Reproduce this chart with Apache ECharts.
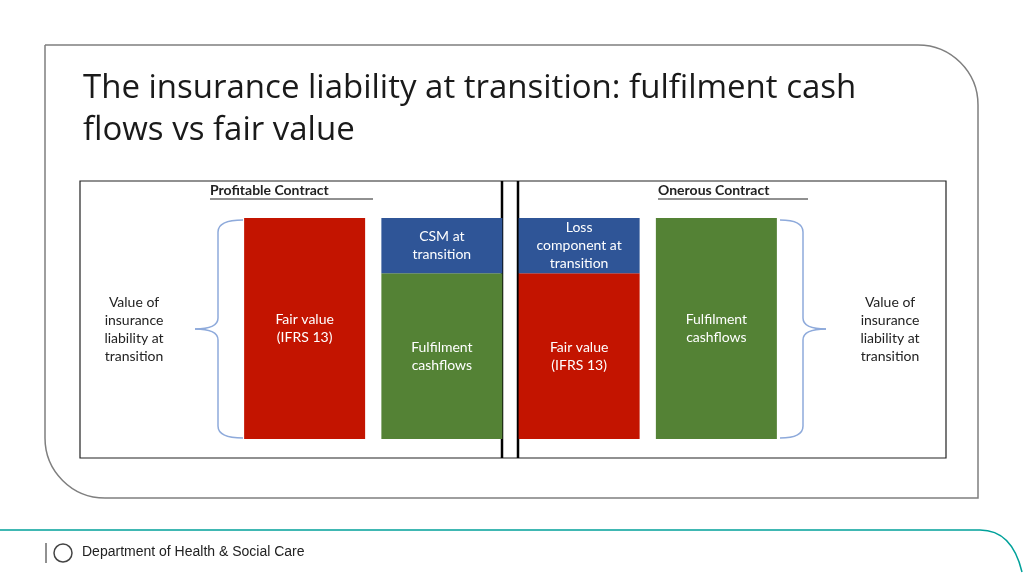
<!DOCTYPE html>
<html><head><meta charset="utf-8">
<script src="https://cdn.jsdelivr.net/npm/echarts@6/dist/echarts.min.js"></script>
<style>html,body{margin:0;padding:0;background:#fff}#c{width:1024px;height:576px}</style>
</head><body><div id="c"></div>
<script>
var categories = ['Profitable FV', 'Profitable FCF', 'Onerous FV', 'Onerous FCF'];
var bottomValues = [100, 75, 75, 100];
var topValues = [0, 25, 25, 0];
var bottomLabels = ['Fair value\n(IFRS 13)', 'Fulfilment\ncashflows', 'Fair value\n(IFRS 13)', 'Fulfilment\ncashflows'];
var topLabels = ['', 'CSM at\ntransition', 'Loss\ncomponent at\ntransition', ''];
var bottomColors = ['#C31400', '#548235', '#C31400', '#548235'];
var topColor = '#2F5597';

var chart = echarts.init(document.getElementById('c'));
var font = 'Lato, "Open Sans", sans-serif';
function lbl(arr){ return {show:true, position:'inside', color:'#fff', fontSize:14, fontFamily:font, lineHeight:18,
  formatter:function(p){return arr[p.dataIndex];}}; }
var brace = '#8EAADB';
function bz(x1,y1,cx,cy,x2,y2){ return {type:'bezierCurve', shape:{x1:x1,y1:y1,cpx1:cx,cpy1:cy,x2:x2,y2:y2}, style:{fill:'none', stroke:brace, lineWidth:1.5}}; }
function ln(x1,y1,x2,y2,c,w){ return {type:'line', shape:{x1:x1,y1:y1,x2:x2,y2:y2}, style:{stroke:c||brace, lineWidth:w||1.5}}; }
function braceEls(xe, xm, xt){
  return [bz(xe,220,xm,220,xm,232), ln(xm,232,xm,318), bz(xm,318,xm,329,xt,329),
          bz(xt,329,xm,329,xm,340), ln(xm,340,xm,426), bz(xm,426,xm,438,xe,438)];
}
var gfx = [
  {type:'rect', z:-1, shape:{x:45, y:45, width:933, height:453, r:[0,60,0,60]}, style:{fill:'none', stroke:'#7f7f7f', lineWidth:1.5}},
  {type:'text', left:83, top:68, style:{text:'The insurance liability at transition: fulfilment cash\nflows vs fair value', fontSize:33, lineHeight:42, fill:'#1a1a1a', fontFamily:'"Open Sans", sans-serif', letterSpacing:-0.6}},
  {type:'rect', shape:{x:80, y:181, width:866, height:277}, style:{fill:'none', stroke:'#222', lineWidth:1.2}},
  ln(502,181,502,458,'#000',2.5), ln(518,181,518,458,'#000',2.5),
  {type:'text', left:210, top:183, style:{text:'Profitable Contract', fontSize:14, fontWeight:'bold', fill:'#222', fontFamily:font}},
  ln(210,199,373,199,'#222',1),
  {type:'text', left:658, top:183, style:{text:'Onerous Contract', fontSize:14, fontWeight:'bold', fill:'#222', fontFamily:font}},
  ln(658,199,808,199,'#222',1),
  {type:'text', x:134, y:329, style:{text:'Value of\ninsurance\nliability at\ntransition', align:'center', verticalAlign:'middle', fontSize:14, lineHeight:18, fill:'#222', fontFamily:font}},
  {type:'text', x:890, y:329, style:{text:'Value of\ninsurance\nliability at\ntransition', align:'center', verticalAlign:'middle', fontSize:14, lineHeight:18, fill:'#222', fontFamily:font}},
  ln(0,530,980,530,'#00A19A',1.5),
  {type:'bezierCurve', shape:{x1:980,y1:530,cpx1:1012,cpy1:530,x2:1022,y2:572}, style:{fill:'none', stroke:'#00A19A', lineWidth:1.5}},
  ln(46,543,46,563,'#222',1),
  {type:'circle', shape:{cx:63, cy:553, r:9}, style:{fill:'none', stroke:'#444', lineWidth:1.5}},
  {type:'text', left:82, top:545, style:{text:'Department of Health & Social Care', fontSize:14, fill:'#222', fontFamily:'"Liberation Sans", Arial, sans-serif'}}
].concat(braceEls(243,218,195), braceEls(780,803,826));

chart.setOption({
  animation:false,
  grid:{left:236, right:1024-785, top:218, bottom:576-439},
  xAxis:{type:'category', data:categories, show:false},
  yAxis:{type:'value', min:0, max:100, show:false},
  series:[
    {type:'bar', stack:'a', barWidth:121, data:bottomValues.map(function(v,i){return {value:v, itemStyle:{color:bottomColors[i]}};}), label:lbl(bottomLabels)},
    {type:'bar', stack:'a', barWidth:121, data:topValues, itemStyle:{color:topColor}, label:lbl(topLabels)}
  ],
  graphic:gfx
});
</script></body></html>
